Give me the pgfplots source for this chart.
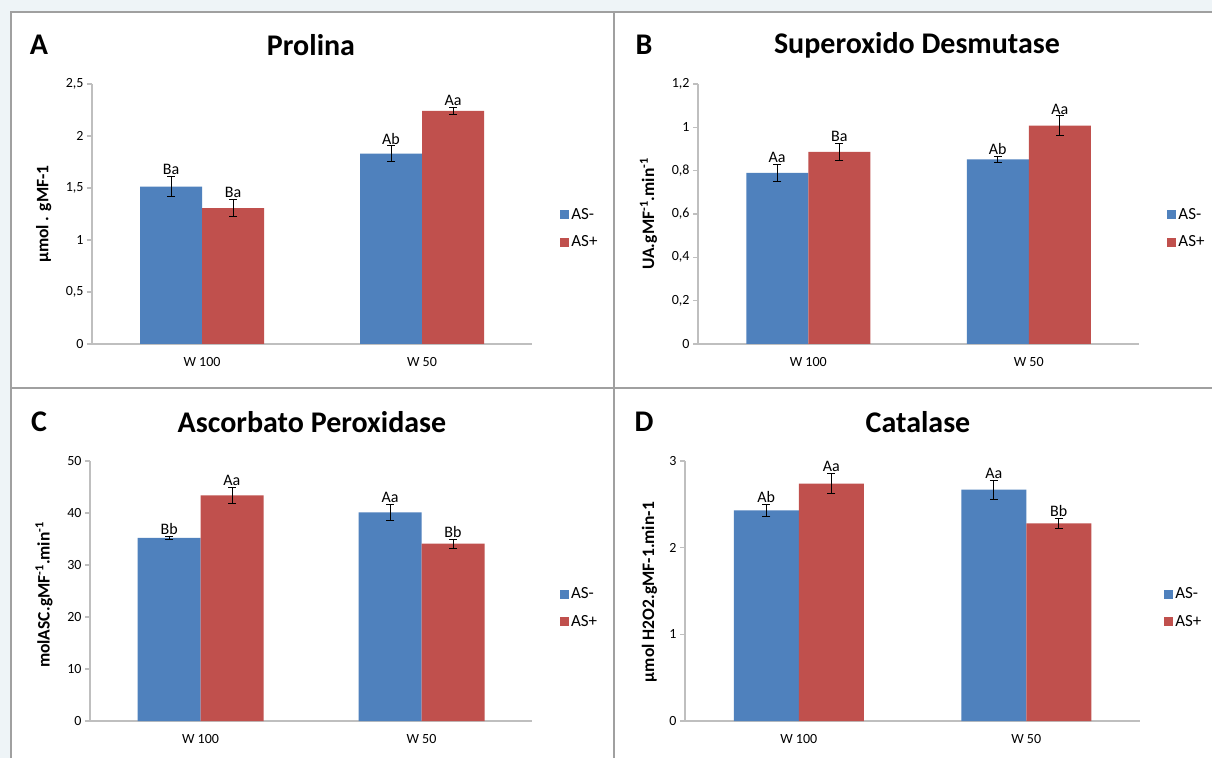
\documentclass[border=0pt]{standalone}
\usepackage{fontspec}
\setmainfont{Carlito}
\usepackage{pgfplots}
\usepackage{pgfplotstable}
\pgfplotsset{compat=1.18}
\definecolor{asminus}{HTML}{4F81BD}
\definecolor{asplus}{HTML}{C0504D}
\definecolor{axgray}{HTML}{BFBFBF}
\definecolor{framegray}{HTML}{A0A0A0}
\definecolor{bgout}{HTML}{EEF4F7}

\pgfplotstableread{
x blue berr red rerr
0 1.514 0.096 1.306 0.083
1 1.831 0.074 2.241 0.033
}\dataA
\pgfplotstableread{
x blue berr red rerr
0 0.790 0.040 0.887 0.040
1 0.852 0.012 1.008 0.045
}\dataB
\pgfplotstableread{
x blue berr red rerr
0 35.2 0.25 43.4 1.5
1 40.1 1.6 34.1 0.85
}\dataC
\pgfplotstableread{
x blue berr red rerr
0 2.43 0.07 2.74 0.12
1 2.67 0.11 2.28 0.055
}\dataD

\newcommand{\ticksize}{\fontsize{14}{16}\selectfont}
\newcommand{\titlefont}{\fontsize{30}{32}\selectfont\bfseries}
\tikzset{lbl/.style={anchor=south, inner sep=1.5pt, font=\fontsize{16}{18}\selectfont}}
\pgfplotsset{
  panel/.style={
    scale only axis,
    anchor=south west,
    ymin=0,
    xmin=-0.5, xmax=1.5,
    axis x line*=bottom, axis y line*=left,
    axis line style={axgray, line width=1.4pt},
    every tick/.style={axgray, line width=1.4pt},
    xtick={0,1}, xticklabels={W 100, W 50},
    major x tick style={draw=none},
    extra x ticks={-0.5,0.5,1.5}, extra x tick labels={},
    extra x tick style={tick align=outside, major tick length=6pt, major x tick style={axgray, line width=1.4pt}},
    ytick align=outside, ytick pos=left, major tick length=5pt,
    tick label style={font=\ticksize},
    /pgf/number format/assume math mode=true,
    xticklabel style={yshift=-5pt},
    ylabel style={font=\fontsize{17.5}{19}\selectfont\bfseries, anchor=center},
    ybar, 
    enlarge y limits=false,
    clip=false,
    legend style={draw=none, fill=none, font=\fontsize{17}{19}\selectfont,
      anchor=west, row sep=11pt, inner xsep=0pt, inner ysep=0pt,
      /tikz/every even column/.append style={column sep=3pt}},
    legend cell align=left,
    legend image code/.code={\fill[##1] (0pt,-4.5pt) rectangle (9pt,4.5pt);},
    error bars/y dir=both, error bars/y explicit,
    error bars/error bar style={black, line width=0.9pt},
    error bars/error mark options={rotate=90, black, mark size=4pt, line width=0.9pt},
  },
}

\begin{document}
\begin{tikzpicture}[x=1pt,y=1pt]
\path[use as bounding box] (0pt,0pt) rectangle (1212pt,758pt);
\fill[bgout] (0pt,0pt) rectangle (1212pt,758pt);
\fill[white] (11pt,0pt) rectangle (1212pt,746pt);
\draw[framegray, line width=1.6pt] (11pt,0pt) -- (11pt,746pt) -- (1212pt,746pt);
\draw[framegray, line width=2pt] (614pt,0pt) -- (614pt,746pt);
\draw[framegray, line width=2pt] (11pt,370pt) -- (1212pt,370pt);

% Titles
\node[font=\titlefont] at (311pt,713pt) {Prolina};
\node[font=\titlefont] at (917pt,713pt) {Superoxido Desmutase};
\node[font=\titlefont] at (312pt,336pt) {Ascorbato Peroxidase};
\node[font=\titlefont] at (918pt,336pt) {Catalase};
\node[font=\titlefont] at (39pt,713pt) {A};
\node[font=\titlefont] at (644pt,713pt) {B};
\node[font=\titlefont] at (39pt,336pt) {C};
\node[font=\titlefont] at (644pt,336pt) {D};

% Panel A
\begin{axis}[panel, at={(92pt,414pt)}, width=440pt, height=260pt,
  ymax=2.5, ytick={0,0.5,1,1.5,2,2.5}, yticklabels={0,{0,5},1,{1,5},2,{2,5}},
  ylabel={µmol . gMF-1}, ylabel style={at={(axis description cs:-0.11,0.5)}},
  legend style={at={(axis description cs:1.064,0.445)}},
  bar width=62pt]
\addplot[fill=asminus, draw=none, bar shift=-31pt] table[x=x, y=blue, y error=berr]{\dataA};
\addplot[fill=asplus, draw=none, bar shift=31pt] table[x=x, y=red, y error=rerr]{\dataA};
\legend{AS-, AS+}
\node[lbl] at (axis cs:-0.141,1.610) {Ba};
\node[lbl] at (axis cs:0.141,1.389) {Ba};
\node[lbl] at (axis cs:0.859,1.905) {Ab};
\node[lbl] at (axis cs:1.141,2.274) {Aa};
\end{axis}

% Panel B
\begin{axis}[panel, at={(698pt,414pt)}, width=441pt, height=260pt,
  ymax=1.2, ytick={0,0.2,0.4,0.6,0.8,1,1.2}, yticklabels={0,{0,2},{0,4},{0,6},{0,8},1,{1,2}},
  ylabel={UA.gMF\textsuperscript{-1}.min\textsuperscript{-1}}, ylabel style={at={(axis description cs:-0.112,0.5)}},
  legend style={at={(axis description cs:1.064,0.445)}},
  bar width=62pt]
\addplot[fill=asminus, draw=none, bar shift=-31pt] table[x=x, y=blue, y error=berr]{\dataB};
\addplot[fill=asplus, draw=none, bar shift=31pt] table[x=x, y=red, y error=rerr]{\dataB};
\legend{AS-, AS+}
\node[lbl] at (axis cs:-0.141,0.830) {Aa};
\node[lbl] at (axis cs:0.141,0.927) {Ba};
\node[lbl] at (axis cs:0.859,0.864) {Ab};
\node[lbl] at (axis cs:1.141,1.053) {Aa};
\end{axis}

% Panel C
\begin{axis}[panel, at={(90pt,37pt)}, width=442pt, height=260pt,
  ymax=50, ytick={0,10,20,30,40,50},
  ylabel={molASC.gMF\textsuperscript{-1}.min\textsuperscript{-1}}, ylabel style={at={(axis description cs:-0.104,0.485)}},
  legend style={at={(axis description cs:1.063,0.435)}},
  bar width=63pt]
\addplot[fill=asminus, draw=none, bar shift=-31.5pt] table[x=x, y=blue, y error=berr]{\dataC};
\addplot[fill=asplus, draw=none, bar shift=31.5pt] table[x=x, y=red, y error=rerr]{\dataC};
\legend{AS-, AS+}
\node[lbl] at (axis cs:-0.142,35.45) {Bb};
\node[lbl] at (axis cs:0.142,44.9) {Aa};
\node[lbl] at (axis cs:0.858,41.7) {Aa};
\node[lbl] at (axis cs:1.142,34.95) {Bb};
\end{axis}

% Panel D
\begin{axis}[panel, at={(685pt,37pt)}, width=455pt, height=260pt,
  ymax=3, ytick={0,1,2,3},
  ylabel={µmol H2O2.gMF-1.min-1}, ylabel style={at={(axis description cs:-0.078,0.496)}},
  legend style={at={(axis description cs:1.053,0.435)}},
  bar width=65pt]
\addplot[fill=asminus, draw=none, bar shift=-32.5pt] table[x=x, y=blue, y error=berr]{\dataD};
\addplot[fill=asplus, draw=none, bar shift=32.5pt] table[x=x, y=red, y error=rerr]{\dataD};
\legend{AS-, AS+}
\node[lbl] at (axis cs:-0.143,2.50) {Ab};
\node[lbl] at (axis cs:0.143,2.86) {Aa};
\node[lbl] at (axis cs:0.857,2.78) {Aa};
\node[lbl] at (axis cs:1.143,2.335) {Bb};
\end{axis}
\end{tikzpicture}
\end{document}
